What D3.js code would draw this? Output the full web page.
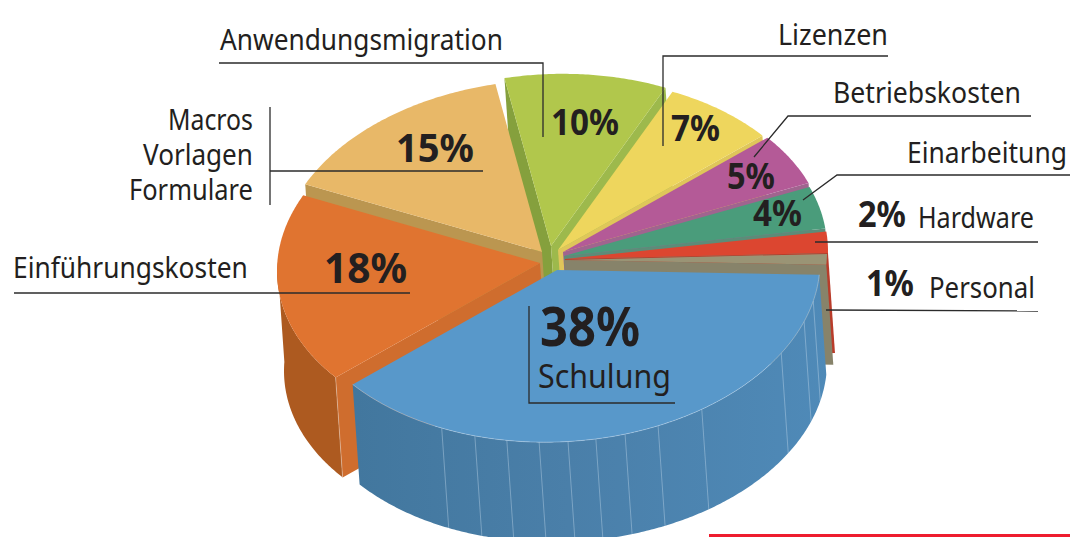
<!DOCTYPE html>
<html><head><meta charset="utf-8">
<script src="https://cdnjs.cloudflare.com/ajax/libs/d3/7.8.5/d3.min.js"></script>
<style>html,body{margin:0;padding:0;background:#fff}svg{display:block}</style>
</head><body>
<svg id="chart" width="1070" height="537"></svg>
<script>
// ---- data ----
const categories = ["Schulung","Einführungskosten","Macros Vorlagen Formulare","Anwendungsmigration","Lizenzen","Betriebskosten","Einarbeitung","Hardware","Personal"];
const values = [38,18,15,10,7,5,4,2,1];
const valueLabels = values.map(v => v + "%");
// angles (degrees) of the faint seams on the blue outer wall
const ribAngles = [206,198.2,191,183.9,177.6,171.5,165,157.4,146.6,121.5,110,103];

// ---- layout / style ----
const W = 1070, H = 537;
const rx = 263, ry = 172, tilt = -0.03, depth = {x:7, y:100};
const startDeg = 94.2;
const apex = [[557,270],[540,263],[542,252],[551,246],[558,250],[563,252],[564,256],[565,259],[564,260]];
const topFill  = ["#5898ca","#e07430","#e8b868","#b1c74c","#eed65d","#b45a97","#4a9c7b","#dc4630","#9a9475"];
const endFill  = [null,null,"#bb9650","#9db94c","#dfc65a","#a0648f","#5c8c78","#b93c2a","#87836a"];
const sideFill = {1:"#cf6d2e"};

const svg = d3.select("#chart");
const defs = svg.append("defs");
const grad = defs.append("linearGradient").attr("id","wall").attr("gradientUnits","userSpaceOnUse")
  .attr("x1",355).attr("x2",830).attr("y1",0).attr("y2",0);
[[0,"#42779e"],[.45,"#4a7fa9"],[1,"#4f8ab8"]].forEach(s=>grad.append("stop").attr("offset",s[0]).attr("stop-color",s[1]));

const pie = d3.pie().sort(null).startAngle(startDeg*Math.PI/180).endAngle((startDeg+360)*Math.PI/180);
const arcs = pie(values);

const sx = d3.scaleLinear().domain([-1,1]).range([-rx,rx]);
const sy = d3.scaleLinear().domain([-1,1]).range([-ry,ry]);
function pt(i,a,ext){
  const ux=Math.sin(a), uy=-Math.cos(a);
  const x=apex[i][0]+sx(ux)+(ext?depth.x:0);
  const y=apex[i][1]+sy(uy)+tilt*sx(ux)+(ext?depth.y:0);
  return [x,y];
}
function arcPts(i,a0,a1,ext){
  const n=Math.max(2,Math.ceil(Math.abs(a1-a0)/0.01));
  return d3.range(n+1).map(k=>pt(i,a0+(a1-a0)*k/n,ext));
}
const line=d3.line();
const poly=p=>line(p)+"Z";
const ap=(i,ext)=>[apex[i][0]+(ext?depth.x:0),apex[i][1]+(ext?depth.y:0)];
function topPath(i){return poly([ap(i)].concat(arcPts(i,arcs[i].startAngle,arcs[i].endAngle)));}
function endFace(i,a){const p=pt(i,a),q=pt(i,a,true);return poly([ap(i),p,q,ap(i,true)]);}
function wall(i,a0,a1){return poly(arcPts(i,a0,a1).concat(arcPts(i,a1,a0,true)));}

const g=svg.append("g");
// back slices: green has a darker leading face too
g.append("path").attr("d",endFace(3,arcs[3].startAngle)).attr("fill","#85a03d");
g.append("path").attr("d",endFace(3,arcs[3].endAngle)).attr("fill","#9db94c");
g.append("path").attr("d",topPath(3)).attr("fill",topFill[3]);
// yellow → tan, each shows the face at its far side
[4,5,6,7,8].forEach(i=>{
  g.append("path").attr("d",endFace(i,arcs[i].endAngle)).attr("fill",endFill[i]);
  g.append("path").attr("d",topPath(i)).attr("fill",topFill[i]);
});
// sand
g.append("path").attr("d",endFace(2,arcs[2].startAngle)).attr("fill",endFill[2]);
g.append("path").attr("d",topPath(2)).attr("fill",topFill[2]);
// orange
g.append("path").attr("d",endFace(1,arcs[1].startAngle)).attr("fill",sideFill[1]);
g.append("path").attr("d",wall(1,arcs[1].startAngle,273*Math.PI/180)).attr("fill","#ad5a20");
{const c=pt(1,arcs[1].startAngle),d=pt(1,arcs[1].startAngle,true);
 g.append("path").attr("d",line([c,d])).attr("stroke","#fff").attr("stroke-opacity",.4).attr("stroke-width",.8).attr("fill","none");}
g.append("path").attr("d",topPath(1)).attr("fill",topFill[1]);
// blue
g.append("path").attr("d",wall(0,arcs[0].startAngle,arcs[0].endAngle)).attr("fill","url(#wall)");
g.selectAll("path.rib").data(ribAngles).join("path").attr("class","rib")
  .attr("d",d=>{const a=d*Math.PI/180;return line([pt(0,a),pt(0,a,true)]);})
  .attr("stroke","#cfe2f2").attr("stroke-opacity",.42).attr("stroke-width",.9).attr("fill","none");
g.append("path").attr("d",topPath(0)).attr("fill",topFill[0]);
g.append("path").attr("d",line(arcPts(0,arcs[0].startAngle,arcs[0].endAngle))).attr("fill","none")
  .attr("stroke","#cfe2f2").attr("stroke-opacity",.5).attr("stroke-width",.8);

// ---- leader lines ----
const leaders=[
 [[219,63],[543,63],[543,137]],
 [[888,56],[663,56],[663,146]],
 [[1031,116],[788,116],[754,157]],
 [[1070,175],[837,175],[803,200]],
 [[815,242],[1038,242]],
 [[826,310],[1038,311]],
 [[270,107],[270,205]],
 [[270,171],[483,171]],
 [[14,293],[410,293]],
 [[529,306],[529,403],[675,403]]
];
svg.append("g").selectAll("path").data(leaders).join("path")
  .attr("d",d=>line(d)).attr("fill","none").attr("stroke","#2b2b2b").attr("stroke-width",1.3);

// ---- texts ----
const ink="#231f20", face="'Noto Sans', Lato, sans-serif";
const nameTexts=[
 [categories[3],220,50,283,29],
 [categories[4],778,45,110,29],
 [categories[5],833,103,188,29],
 [categories[6],907,163,160,29],
 [categories[7],918,228,116,29],
 [categories[8],929,298,106,29],
 ["Macros",168,130,85,29],
 ["Vorlagen",143,165,110,29],
 ["Formulare",129,200,124,29],
 [categories[1],13,278,235,29],
 [categories[0],538,388,133,33]
];
const pctTexts=[
 [valueLabels[0],540,346,100,54],
 [valueLabels[1],324,283,83,41],
 [valueLabels[2],396,162,78,39],
 [valueLabels[3],551,135,68,35],
 [valueLabels[4],671,141,49,35],
 [valueLabels[5],727,189,48,35],
 [valueLabels[6],753,226,49,35],
 [valueLabels[7],858,227,48,35],
 [valueLabels[8],866,296,48,35]
];
const tg=svg.append("g").attr("fill",ink).attr("font-family",face);
// each label is squeezed horizontally to the width it has in the reference
function fit(sel){
  sel.attr("font-size",d=>d[4]).text(d=>d[0])
     .attr("transform",function(d){
       const k=d[3]/this.getComputedTextLength();
       return `translate(${d[1]},${d[2]}) scale(${k},1)`;
     });
}
tg.selectAll("text.n").data(nameTexts).join("text").attr("class","n").call(fit);
tg.selectAll("text.p").data(pctTexts).join("text").attr("class","p").attr("font-weight",700).call(fit);

// red rule bottom right
svg.append("rect").attr("x",709).attr("y",534).attr("width",361).attr("height",3).attr("fill","#ee1c2e");
</script>
</body></html>
